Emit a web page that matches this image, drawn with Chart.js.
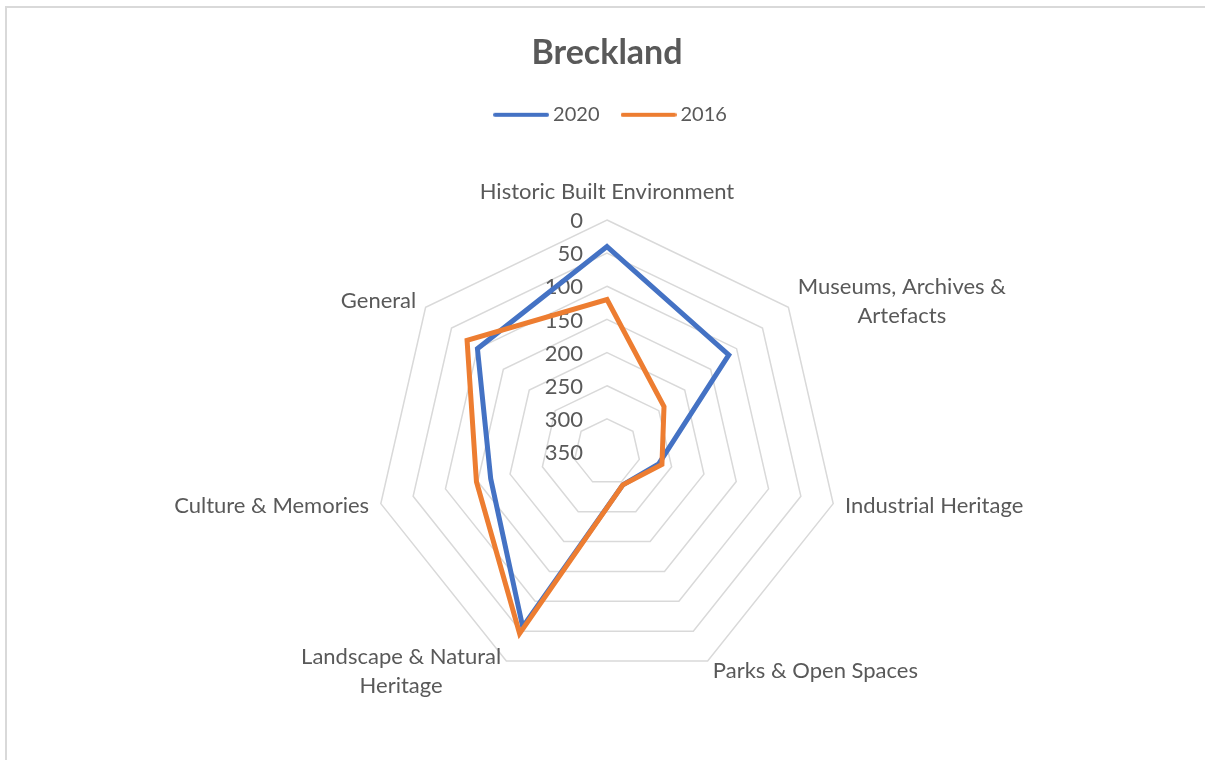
<!DOCTYPE html>
<html><head><meta charset="utf-8">
<script src="https://cdn.jsdelivr.net/npm/chart.js@4.4.1/dist/chart.umd.min.js"></script>
<style>
html,body{margin:0;padding:0;background:#fff;overflow:hidden;}
canvas{display:block;}
</style></head><body>
<canvas id="c" width="1205" height="760"></canvas>
<script>
const chartTitle = 'Breckland';
const categories = [
  'Historic Built Environment',
  ['Museums, Archives &', 'Artefacts'],
  'Industrial Heritage',
  'Parks & Open Spaces',
  ['Landscape & Natural', 'Heritage'],
  'Culture & Memories',
  'General'
];
const seriesNames = ['2020', '2016'];
const values2020 = [40, 115, 270, 295, 57, 170, 100];
const values2016 = [120, 240, 265, 295, 46, 148, 80];
const tickValues = [0, 50, 100, 150, 200, 250, 300, 350];

const FONT = 'Lato, "Open Sans", sans-serif';
const TEXT = '#595959';

function legendLine(color) {
  const c = document.createElement('canvas');
  c.width = 56; c.height = 8;
  const g = c.getContext('2d');
  g.strokeStyle = color; g.lineWidth = 4; g.lineCap = 'round';
  g.beginPath(); g.moveTo(2, 4); g.lineTo(54, 4); g.stroke();
  return c;
}

const framePlugin = {
  id: 'frame',
  beforeDraw(chart) {
    const ctx = chart.ctx;
    ctx.save();
    ctx.strokeStyle = '#d9d9d9';
    ctx.lineWidth = 2;
    ctx.beginPath();
    ctx.moveTo(6, chart.height); ctx.lineTo(6, 7); ctx.lineTo(chart.width, 7);
    ctx.stroke();
    ctx.restore();
  },
  afterLayout(chart) {
    if (chart.legend) { chart.legend.left += 6; chart.legend.right += 6; }
  }
};

const labelPlugin = {
  id: 'excelLabels',
  beforeDatasetsDraw(chart) {
    const s = chart.scales.r;
    const ctx = chart.ctx;
    ctx.save();
    ctx.font = '22px ' + FONT;
    ctx.fillStyle = TEXT;
    ctx.textAlign = 'right';
    ctx.textBaseline = 'middle';
    tickValues.forEach(v => {
      const d = s.getDistanceFromCenterForValue(v);
      ctx.fillText(String(v), s.xCenter - 24, s.yCenter - d + 1);
    });
    const lh = 29;
    chart.data.labels.forEach((lab, i) => {
      const lines = Array.isArray(lab) ? lab : [lab];
      const p = s.getPointPosition(i, s.drawingArea);
      const a = p.angle;
      const c = Math.cos(a), sn = Math.sin(a);
      const bw = Math.max(...lines.map(l => ctx.measureText(l).width));
      const bh = lines.length * lh;
      let cx, cy;
      if (Math.abs(c) < 0.05) {
        cx = p.x;
        cy = p.y + sn * (14 + bh / 2);
      } else {
        const gap = 12 * Math.abs(c);
        cx = c > 0 ? p.x + gap + bw / 2 : p.x - gap - bw / 2;
        cy = p.y + sn * 10 + (sn > 0.5 ? 1 : 0);
      }
      ctx.textAlign = 'center';
      lines.forEach((l, k) => {
        ctx.fillText(l, cx, cy - bh / 2 + lh / 2 + k * lh);
      });
    });
    ctx.restore();
  }
};

new Chart(document.getElementById('c'), {
  type: 'radar',
  data: {
    labels: categories,
    datasets: [
      { label: seriesNames[1], data: values2016, borderColor: '#ED7D31', backgroundColor: '#ED7D31' },
      { label: seriesNames[0], data: values2020, borderColor: '#4472C4', backgroundColor: '#4472C4' }
    ]
  },
  options: {
    responsive: false,
    animation: false,
    events: [],
    elements: {
      line: { borderWidth: 5, fill: false, tension: 0, borderJoinStyle: 'miter', borderCapStyle: 'round' },
      point: { radius: 0, hoverRadius: 0 }
    },
    layout: { padding: { left: 9 } },
    plugins: {
      title: {
        display: true, text: chartTitle, color: TEXT,
        font: { family: FONT, size: 34, weight: 'bold' },
        padding: { top: 33, bottom: 4 }
      },
      legend: {
        display: true, position: 'top', reverse: true,
        labels: {
          color: TEXT, font: { family: FONT, size: 20 },
          usePointStyle: true, pointStyleWidth: 44, padding: 27,
          generateLabels: (chart) => Chart.defaults.plugins.legend.labels.generateLabels(chart)
            .map(l => Object.assign(l, { pointStyle: legendLine(l.strokeStyle), lineWidth: 0 }))
        }
      },
      tooltip: { enabled: false }
    },
    scales: {
      r: {
        reverse: true, min: 0, max: 350,
        ticks: { display: false, stepSize: 50 },
        pointLabels: { display: false },
        angleLines: { display: false },
        grid: { color: '#d9d9d9', lineWidth: 1.5, circular: false },
        afterFit: (s) => { s.xCenter = 607; s.yCenter = 452; s.drawingArea = 232; }
      }
    }
  },
  plugins: [framePlugin, labelPlugin]
});
</script>
</body></html>
